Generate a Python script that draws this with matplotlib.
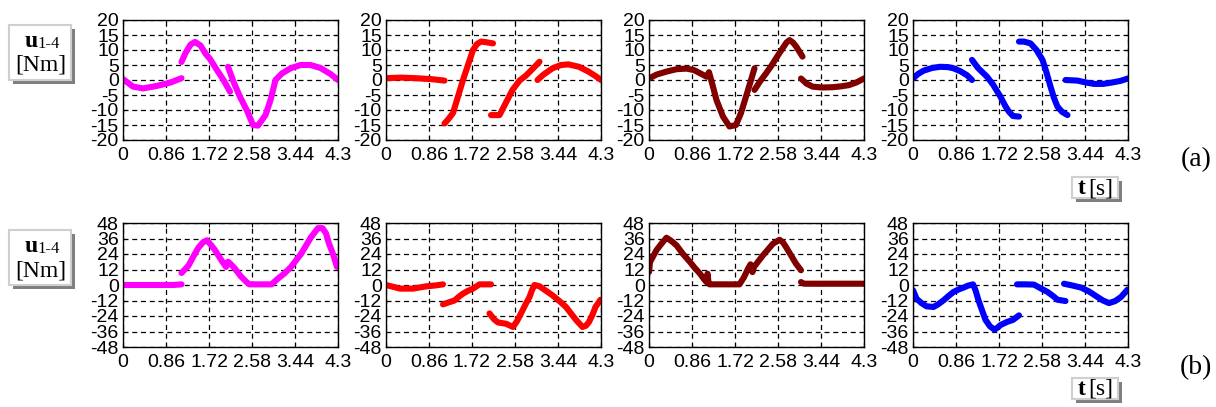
import numpy as np
import matplotlib
matplotlib.use("Agg")
import matplotlib.pyplot as plt
from matplotlib.patches import Rectangle

# time axis ticks shared by all panels
t_ticks = [0, 0.86, 1.72, 2.58, 3.44, 4.3]
t_labels = ["0", "0.86", "1.72", "2.58", "3.44", "4.3"]
ya_ticks = [-20, -15, -10, -5, 0, 5, 10, 15, 20]
yb_ticks = [-48, -36, -24, -12, 0, 12, 24, 36, 48]

colors = ["#ff00ff", "#ff0000", "#800000", "#0000ff"]

# row (a) - each panel is a list of curve segments
a1_t = [[0, 0.2, 0.4, 0.67, 0.94, 1.17],
        [1.17, 1.25, 1.35, 1.44, 1.55, 1.65, 1.74, 1.88, 2.01, 2.14],
        [2.1, 2.21, 2.34, 2.48, 2.6, 2.7, 2.85, 2.95, 3.05, 3.18, 3.35, 3.55, 3.75, 3.95, 4.15, 4.3]]
a1_u = [[0.3, -2.2, -2.8, -2.0, -0.9, 0.6],
        [6.0, 9.0, 11.8, 12.7, 11.5, 8.8, 7.0, 3.3, 0.0, -3.9],
        [4.4, -0.6, -5.6, -10.2, -15.0, -15.2, -11.7, -6.7, 0.0, 2.2, 3.9, 5.0, 5.0, 4.0, 2.0, 0.0]]

a2_t = [[0, 0.3, 0.6, 0.9, 1.17],
        [1.17, 1.25, 1.34, 1.44, 1.54, 1.64, 1.74, 1.82, 1.9, 2.0, 2.14],
        [2.1, 2.27, 2.4, 2.53, 2.67, 2.8, 2.95, 3.07],
        [3.03, 3.15, 3.33, 3.5, 3.65, 3.86, 4.05, 4.2, 4.3]]
a2_u = [[0.6, 0.8, 0.6, 0.3, -0.2],
        [-14.5, -13.0, -11.0, -5.5, 0.0, 5.0, 10.0, 12.0, 12.8, 12.6, 12.2],
        [-11.7, -11.7, -7.5, -3.3, -0.2, 1.5, 4.0, 6.1],
        [0.0, 1.8, 3.9, 5.0, 5.2, 4.4, 2.8, 1.2, 0.0]]

a3_t = [[0, 0.15, 0.35, 0.55, 0.75, 0.9, 1.05, 1.15, 1.2, 1.26, 1.35, 1.48, 1.61, 1.74, 1.84, 1.97, 2.11],
        [2.11, 2.22, 2.34, 2.45, 2.54, 2.65, 2.75, 2.81, 2.88, 2.95, 3.07],
        [3.04, 3.15, 3.27, 3.45, 3.67, 3.85, 4.0, 4.15, 4.3]]
a3_u = [[0.5, 1.8, 2.8, 3.6, 3.8, 3.3, 2.0, 1.1, 2.6, -1.0, -6.7, -12.2, -15.5, -15.0, -11.0, -3.9, 3.9],
        [-3.3, -0.5, 2.2, 4.8, 7.2, 10.0, 12.5, 13.3, 12.5, 11.0, 7.8],
        [0.5, -1.2, -2.2, -2.5, -2.4, -2.1, -1.7, -0.8, 0.5]]

a4_t = [[0, 0.1, 0.21, 0.38, 0.54, 0.7, 0.81, 0.95, 1.08, 1.18],
        [1.18, 1.3, 1.48, 1.6, 1.75, 1.85, 1.92, 2.0, 2.12],
        [2.12, 2.22, 2.35, 2.47, 2.59, 2.67, 2.75, 2.82, 2.89, 2.98, 3.09],
        [3.05, 3.29, 3.45, 3.62, 3.8, 3.96, 4.15, 4.3]]
a4_u = [[0.5, 2.0, 3.1, 4.0, 4.4, 4.3, 3.9, 2.9, 1.6, 0.0],
        [6.7, 4.0, 1.1, -1.5, -5.6, -8.8, -10.6, -12.0, -12.2],
        [12.8, 12.8, 12.2, 10.0, 6.7, 2.5, -2.2, -6.0, -8.9, -10.6, -11.7],
        [0.0, -0.2, -0.8, -1.3, -1.3, -0.9, -0.3, 0.5]]

# row (b)
b1_t = [[0, 0.5, 1.0, 1.17],
        [1.17, 1.31, 1.42, 1.51, 1.6, 1.68, 1.76, 1.84, 1.97, 2.06, 2.1, 2.16, 2.24, 2.35, 2.47,
         2.53, 2.75, 2.97, 3.1, 3.23, 3.36, 3.56, 3.76, 3.9, 3.99, 4.06, 4.12, 4.2, 4.28]]
b1_u = [[0, 0, 0, 0.5],
        [9.3, 15, 23, 29, 33, 34.6, 31, 27, 19, 14, 18, 16, 12.6, 7, 2.3,
         0.5, 0.5, 0.5, 5, 9, 14, 24, 37, 44, 44, 40, 32, 24, 14]]

b2_t = [[0, 0.15, 0.28, 0.54, 0.81, 1.0, 1.14],
        [1.14, 1.25, 1.37, 1.46, 1.54, 1.64, 1.74, 1.87, 2.0, 2.1],
        [2.07, 2.16, 2.24, 2.4, 2.54, 2.62, 2.7, 2.79, 2.87, 2.92, 2.97, 3.07, 3.2, 3.33,
         3.47, 3.6, 3.7, 3.8, 3.93, 4.0, 4.06, 4.13, 4.19, 4.29]]
b2_u = [[0, -1.5, -2.8, -2.8, -1.0, -0.3, 0.5],
        [-15, -13.5, -12, -9, -6.7, -4.5, -2.8, 0.5, 0.5, 0.5],
        [-22, -26.5, -29, -30, -32.5, -28, -22, -15, -9.3, -4, 0, -1, -4.5, -8,
         -12.5, -17, -22, -27, -32.5, -31.5, -28.6, -23, -17, -11.4]]

b3_t = [[0, 0.02, 0.08, 0.15, 0.25, 0.35, 0.45, 0.55, 0.68, 0.82, 0.92, 1.02, 1.1, 1.15, 1.17,
         1.19, 1.21, 1.5, 1.81, 1.9, 1.98, 2.03, 2.07, 2.1, 2.18, 2.28, 2.38, 2.48, 2.61, 2.68,
         2.74, 2.84, 2.94, 3.04],
        [3.04, 3.1, 3.5, 4.0, 4.3]]
b3_u = [[10, 17.8, 22, 27, 32, 36.6, 34, 30.7, 24, 17.8, 13, 8.8, 4.5, 2.3, 8.8,
         2.3, 0.5, 0.5, 0.5, 6, 12.6, 16, 10, 14, 18, 23, 27.5, 32, 35, 33,
         29.4, 23, 16.5, 11.4],
        [2.3, 1, 1, 1, 1]]

b4_t = [[0, 0.07, 0.17, 0.27, 0.41, 0.5, 0.61, 0.71, 0.81, 0.91, 1.01, 1.1, 1.2, 1.25, 1.31,
         1.38, 1.45, 1.54, 1.63, 1.69, 1.75, 1.88, 2.0, 2.12],
        [2.08, 2.25, 2.42, 2.55, 2.69, 2.8, 2.89, 3.05],
        [3.02, 3.2, 3.36, 3.52, 3.69, 3.8, 3.92, 4.04, 4.16, 4.29]]
b4_u = [[-4, -10.6, -14, -16.5, -17, -15, -11.9, -8.5, -5.4, -3.5, -2, -0.5, 0.5, -4, -11.9,
         -19.5, -27, -32, -34.6, -33, -31, -28.6, -27, -23.5],
        [0.5, 0.5, 0.3, -2.5, -5.4, -8.5, -11.4, -12.4],
        [1, -0.5, -2, -5, -9.3, -12, -14, -12.5, -9.3, -3.6]]

W, H = 1216, 407
fig = plt.figure(figsize=(W / 100, H / 100), dpi=100)

def fx(px):
    return px / W

def fy(py):
    return 1 - py / H

lefts = [123, 386, 649, 913]
rows = [(20, 140, ya_ticks, [(a1_t, a1_u), (a2_t, a2_u), (a3_t, a3_u), (a4_t, a4_u)]),
        (223, 347, yb_ticks, [(b1_t, b1_u), (b2_t, b2_u), (b3_t, b3_u), (b4_t, b4_u)])]

for top, bot, yt, panels in rows:
    for i, (ts, us) in enumerate(panels):
        ax = fig.add_axes([fx(lefts[i]), fy(bot), fx(215), (bot - top) / H])
        for t, u in zip(ts, us):
            ax.plot(t, u, color=colors[i], lw=4.4, solid_capstyle="round",
                    solid_joinstyle="round")
        ax.set_xlim(0, 4.3)
        ax.set_ylim(yt[0], yt[-1])
        ax.set_xticks(t_ticks)
        ax.set_xticklabels(t_labels)
        ax.set_yticks(yt)
        ax.set_yticklabels([str(v) for v in yt])
        ax.grid(True, color="black", lw=0.9, linestyle=(0, (4, 3)))
        ax.tick_params(direction="in", length=3, width=0.8, top=True, right=True,
                       labelsize=14)
        ax.tick_params(axis="x", pad=5)
        ax.tick_params(axis="y", pad=3)
        for lab in ax.get_xticklabels() + ax.get_yticklabels():
            lab.set_fontfamily("Liberation Sans")
        for s in ax.spines.values():
            s.set_linewidth(1.0)

def boxed(x0, y0, w, h):
    # shadow, then white box with light border
    fig.patches.append(Rectangle((fx(x0 + 4), fy(y0 + h + 4)), fx(w), h / H,
                                 transform=fig.transFigure, facecolor="#7f7f7f",
                                 edgecolor="none"))
    fig.patches.append(Rectangle((fx(x0), fy(y0 + h)), fx(w), h / H,
                                 transform=fig.transFigure, facecolor="white",
                                 edgecolor="#cfcfcf", lw=1.5))

serif = "Liberation Serif"
for y0 in [25, 230]:
    boxed(9, y0, 62, 55)
    fig.text(fx(25), fy(y0 + 22), "u", fontfamily=serif, fontweight="bold",
             fontsize=17, ha="left", va="baseline")
    fig.text(fx(37), fy(y0 + 23), "1-4", fontfamily=serif, fontsize=12,
             ha="left", va="baseline")
    fig.text(fx(40.5), fy(y0 + 46), "[Nm]", fontfamily=serif, fontsize=17,
             ha="center", va="baseline")

for y0 in [177, 378]:
    boxed(1072, y0, 46, 21)
    fig.text(fx(1078), fy(y0 + 17), "t", fontfamily=serif, fontweight="bold",
             fontsize=17, ha="left", va="baseline")
    fig.text(fx(1088), fy(y0 + 17), "[s]", fontfamily=serif, fontsize=17,
             ha="left", va="baseline")

fig.text(fx(1196), fy(160), "(a)", fontfamily=serif, fontsize=20, ha="center", va="center")
fig.text(fx(1196), fy(368), "(b)", fontfamily=serif, fontsize=20, ha="center", va="center")

fig.savefig("out.png", dpi=100)
